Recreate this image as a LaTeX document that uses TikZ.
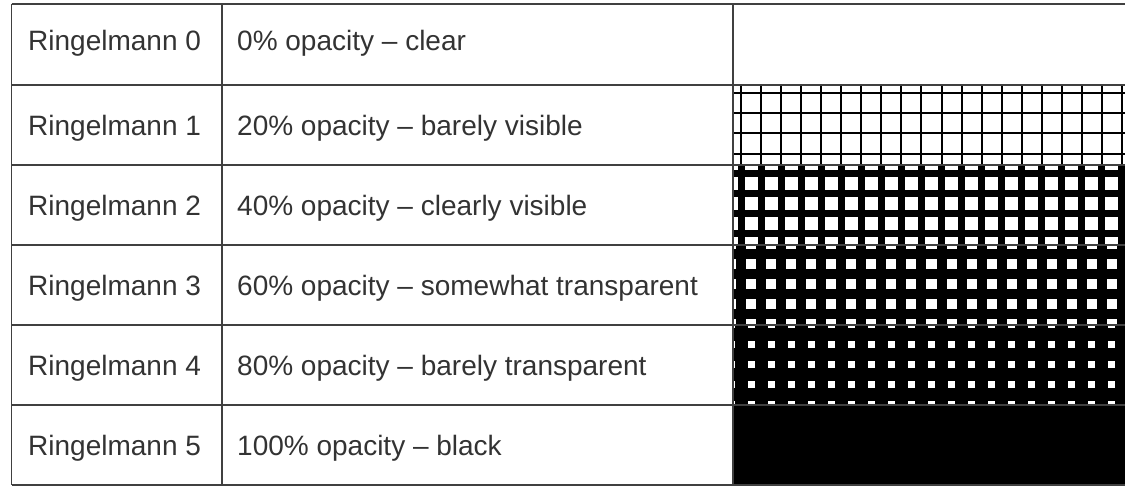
\documentclass[tikz,border=0pt]{standalone}
\usepackage{fontspec}
\setmainfont{Liberation Sans}
\definecolor{txt}{HTML}{333333}
\definecolor{rulec}{HTML}{404040}
\begin{document}
\begin{tikzpicture}[x=1pt,y=-1pt,
  lbl/.style={anchor=base west, inner sep=0pt, text=txt, font=\fontsize{28}{32}\selectfont},
  tline/.style={draw=rulec, line width=1.5pt}]
\useasboundingbox (0,0) rectangle (1125,487);
\fill[white] (0,0) rectangle (1125,487);
% Ringelmann grid patterns
\foreach \ry/\w in {85/2,165/7,245/10,325/13} {
  \begin{scope}
    \clip (733,\ry) rectangle (1125,\ry+80);
    \foreach \i in {0,...,19} \fill[black] (741+20.05*\i-\w/2, \ry) rectangle ++(\w,80);
    \foreach \j in {0,...,16} \fill[black] (733, 93.3+20.07*\j-\w/2) rectangle ++(392,\w);
  \end{scope}
}
\fill[black] (733,405) rectangle (1125,485);
% table rules
\foreach \yy in {4,85,165,245,325,405,485} \draw[tline] (11.5,\yy) -- (1125,\yy);
\foreach \xx in {11.5,222,733} \draw[tline] (\xx,4) -- (\xx,485);
% texts
\node[lbl] (r0) at (28,51) {Ringelmann 0};
\node[lbl] (r1) at (28,135) {Ringelmann 1};
\node[lbl] (r2) at (28,215) {Ringelmann 2};
\node[lbl] (r3) at (28,295) {Ringelmann 3};
\node[lbl] (r4) at (28,375) {Ringelmann 4};
\node[lbl] (r5) at (28,455) {Ringelmann 5};
\node[lbl] (d0) at (237,51) {0\% opacity -- clear};
\node[lbl] (d1) at (237,135) {20\% opacity -- barely visible};
\node[lbl] (d2) at (237,215) {40\% opacity -- clearly visible};
\node[lbl] (d3) at (237,295) {60\% opacity -- somewhat transparent};
\node[lbl] (d4) at (237,375) {80\% opacity -- barely transparent};
\node[lbl] (d5) at (237,455) {100\% opacity -- black};
\end{tikzpicture}
\end{document}
